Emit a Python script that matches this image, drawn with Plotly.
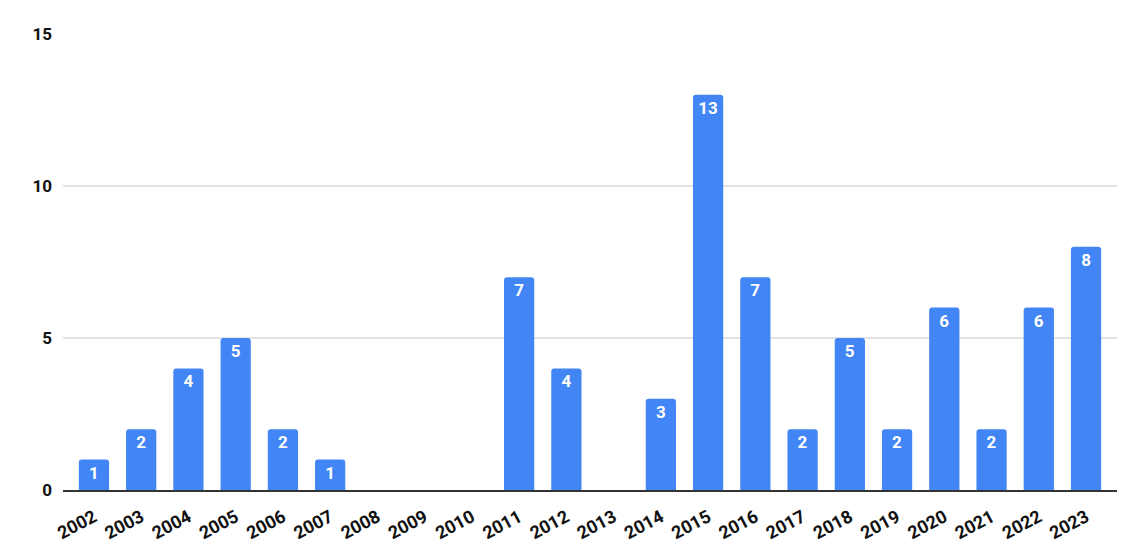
import plotly.graph_objects as go

years = [str(y) for y in range(2002, 2024)]
counts = [1, 2, 4, 5, 2, 1, 0, 0, 0, 7, 4, 0, 3, 13, 7, 2, 5, 2, 6, 2, 6, 8]
y_ticks = [0, 5, 10, 15]

labels = [str(v) if v > 0 else "" for v in counts]

fig = go.Figure(go.Bar(
    x=years, y=counts, text=labels,
    textposition="inside", insidetextanchor="end",
    textfont=dict(color="white", size=17, family="Roboto", weight="bold"),
    marker=dict(color="#4285F4", cornerradius=3, line=dict(width=0)),
    cliponaxis=False,
))

# the page body has an 8px margin; margins are compensated for it
fig.update_layout(
    width=1143, height=554,
    margin=dict(l=55, r=34, t=26, b=72, autoexpand=False),
    plot_bgcolor="white", paper_bgcolor="white",
    bargap=0.36,
    showlegend=False,
    font=dict(family="Roboto", color="#111111"),
)
fig.update_xaxes(
    type="category", range=[-0.655, 21.655],
    tickangle=-28, tickfont=dict(size=18, weight="bold", color="#111111"),
    showline=True, linecolor="#333333", linewidth=1.5,
    showgrid=False, ticks="", ticklabelstandoff=8,
)
fig.update_yaxes(
    range=[0, 15], tickvals=y_ticks,
    tickfont=dict(size=17, weight="bold", color="#111111"),
    showgrid=True, gridcolor="#e3e3e3", gridwidth=1.5,
    zeroline=False, ticks="", ticklabelstandoff=10,
)

fig.write_html("out.html")
